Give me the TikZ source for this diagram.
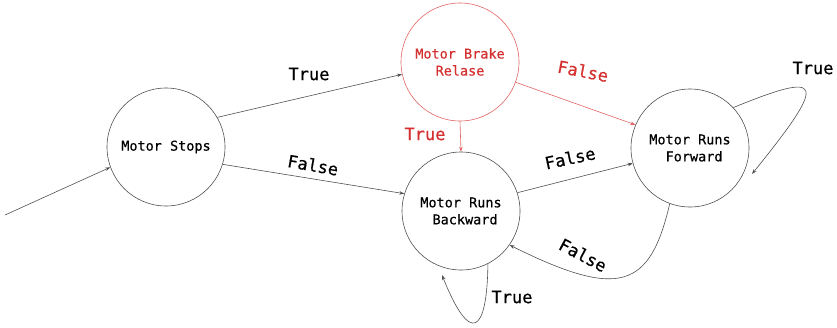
\documentclass[tikz,border=0pt]{standalone}
\usepackage{fontspec}
\setmonofont[FakeBold=0.5]{DejaVu Sans Mono}
\usetikzlibrary{arrows.meta}
\definecolor{edgegray}{RGB}{80,80,80}
\definecolor{alertred}{RGB}{212,48,48}
\definecolor{alertline}{RGB}{226,100,100}
\tikzset{
  state/.style={circle, draw=edgegray, line width=0.6pt, minimum size=118pt, inner sep=0pt,
    align=center, font=\ttfamily\fontsize{13.5}{17}\selectfont, text=black},
  redstate/.style={state, draw=alertline, text=alertred},
  trans/.style={draw=edgegray, line width=0.6pt, -{Stealth[length=5pt,width=3.5pt]}},
  redtrans/.style={trans, draw=alertline},
  lbl/.style={font=\ttfamily\fontsize{17}{20}\selectfont, text=black, inner sep=0pt},
  redlbl/.style={lbl, text=alertred}
}
\begin{document}
\begin{tikzpicture}[x=1pt,y=-1pt]
\useasboundingbox (0,0) rectangle (837,327);

% states
\node[state] (S) at (166,147) {Motor Stops};
\node[redstate] (R) at (460,62) {Motor Brake\\Relase};
\node[state] (B) at (461,211) {Motor Runs\\\hphantom{x}Backward};
\node[state] (F) at (690,148) {Motor Runs\\\hphantom{x}Forward};

% entry point
\coordinate (start) at (5,215);
\draw[trans] (start) -- (S.200);

% transitions
\draw[trans] (S.30) -- (R.192);
\draw[trans] (S.-17) -- (B.163);
\draw[redtrans] (R.-20) -- (F.157);
\draw[redtrans] (R.-90) -- (B.90);
\draw[trans] (B.18) -- (F.195);
\draw[trans] (F.-110) .. controls (650,288) and (620,300) .. (B.-35);
\draw[trans] (F.43) .. controls (825,70) and (828,80) .. (752,174);
\draw[trans] (B.-63) .. controls (487,335) and (470,345) .. (442,275);

% labels
\node[lbl] (t1) at (309,74) {True};
\node[lbl, rotate=-10] (f1) at (313,165) {False};
\node[redlbl, rotate=-11] (f2) at (583,71) {False};
\node[redlbl] (t2) at (425,134) {True};
\node[lbl, rotate=12] (f3) at (570,158) {False};
\node[lbl, rotate=-28] (f4) at (583,255) {False};
\node[lbl] (t3) at (813,68) {True};
\node[lbl] (t4) at (512,297) {True};
\end{tikzpicture}
\end{document}
